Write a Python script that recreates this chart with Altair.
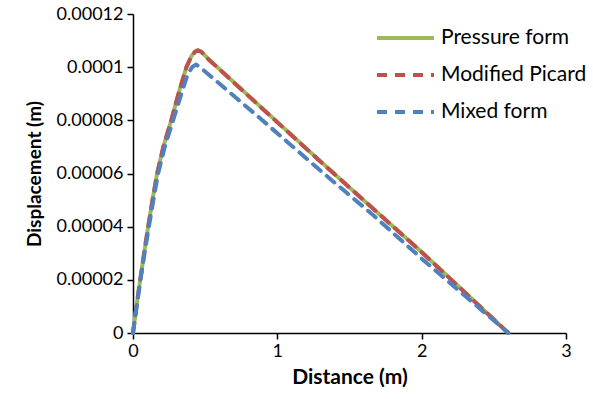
import altair as alt
import pandas as pd

series_names = ["Pressure form", "Modified Picard", "Mixed form"]
series_colors = ["#9BBB59", "#C0504D", "#4F81BD"]

# Pressure form
x_pressure = [0.0, 0.024, 0.05, 0.077, 0.105, 0.135, 0.167, 0.21, 0.265, 0.315, 0.37, 0.405,
              0.43, 0.45, 0.475, 0.52, 0.88, 1.3, 1.7, 2.0, 2.3, 2.6]
y_pressure = [0.0, 1.0e-5, 2.0e-5, 3.0e-5, 4.0e-5, 5.0e-5, 6.0e-5, 7.0e-5, 8.0e-5, 9.0e-5,
              1.0e-4, 1.042e-4, 1.059e-4, 1.064e-4, 1.058e-4, 1.032e-4, 8.53e-5, 6.45e-5,
              4.5e-5, 3.05e-5, 1.53e-5, 0.0]
# Modified Picard
x_picard = [0.0, 0.024, 0.05, 0.077, 0.105, 0.135, 0.167, 0.21, 0.265, 0.315, 0.37, 0.405,
            0.43, 0.45, 0.475, 0.52, 0.88, 1.3, 1.7, 2.0, 2.3, 2.6]
y_picard = [0.0, 1.0e-5, 2.0e-5, 3.0e-5, 4.0e-5, 5.0e-5, 6.0e-5, 7.0e-5, 8.0e-5, 9.0e-5,
            1.0e-4, 1.041e-4, 1.058e-4, 1.063e-4, 1.057e-4, 1.031e-4, 8.52e-5, 6.44e-5,
            4.5e-5, 3.04e-5, 1.52e-5, 0.0]
# Mixed form
x_mixed = [0.0, 0.025, 0.052, 0.08, 0.11, 0.141, 0.174, 0.22, 0.278, 0.335, 0.38, 0.41,
           0.435, 0.46, 0.88, 1.3, 1.65, 2.0, 2.3, 2.6]
y_mixed = [0.0, 1.0e-5, 2.0e-5, 3.0e-5, 4.0e-5, 5.0e-5, 6.0e-5, 7.0e-5, 8.0e-5, 9.0e-5,
           9.75e-5, 1.0e-4, 1.01e-4, 1.002e-4, 8.08e-5, 6.1e-5, 4.5e-5, 2.8e-5, 1.4e-5, 0.0]

x_ticks = [0, 1, 2, 3]
y_ticks = [0, 0.00002, 0.00004, 0.00006, 0.00008, 0.0001, 0.00012]

rows = []
for name, xs, ys in zip(series_names, [x_pressure, x_picard, x_mixed], [y_pressure, y_picard, y_mixed]):
    for i, (xv, yv) in enumerate(zip(xs, ys)):
        rows.append({"series": name, "x": xv, "y": yv, "i": i})
df = pd.DataFrame(rows)

FONT = "Lato"

color = alt.Color(
    "series:N",
    scale=alt.Scale(domain=series_names, range=series_colors),
    legend=alt.Legend(
        title=None, orient="none", legendX=242, legendY=6,
        symbolType="stroke", symbolSize=3249, symbolStrokeWidth=4,
        labelFont=FONT, labelFontSize=21, labelColor="#000000",
        clipHeight=36, rowPadding=1, labelOffset=5,
    ),
)
dash = alt.StrokeDash(
    "series:N",
    scale=alt.Scale(domain=series_names, range=[[1, 0], [10, 8], [10, 8]]),
    legend=alt.Legend(title=None),
)

xenc = alt.X("x:Q", scale=alt.Scale(domain=[0, 3], nice=False),
             axis=alt.Axis(values=x_ticks, title="Distance (m)", format="d",
                           titleFontSize=21, titlePadding=6, labelFlush=False))
yenc = alt.Y("y:Q", scale=alt.Scale(domain=[0, 0.00012], nice=False),
             axis=alt.Axis(values=y_ticks, title="Displacement (m)", format=".5~f",
                           titleFontSize=19, titlePadding=12, labelFlush=False))

layers = []
for name in series_names:
    layers.append(
        alt.Chart(df).transform_filter(alt.datum.series == name)
        .mark_line(strokeWidth=4, strokeCap="round", strokeJoin="round", interpolate="linear")
        .encode(x=xenc, y=yenc, color=color, strokeDash=dash, order="i:Q")
    )

chart = alt.layer(*layers).properties(
    width=433, height=319,
    autosize=alt.AutoSizeParams(type="none"),
    padding={"left": 133, "top": 14, "right": 27, "bottom": 66},
).configure_view(stroke=None).configure_axis(
    grid=False, domainColor="#000000", domainWidth=1.5, tickColor="#000000", tickWidth=1.5,
    tickSize=6, labelFont=FONT, labelFontSize=18, labelColor="#000000",
    titleFont=FONT, titleFontWeight="bold", titleColor="#000000",
).configure_axisX(labelPadding=3).configure_axisY(labelPadding=4)

chart.save("out.html", embed_options={"renderer": "svg", "actions": False})
